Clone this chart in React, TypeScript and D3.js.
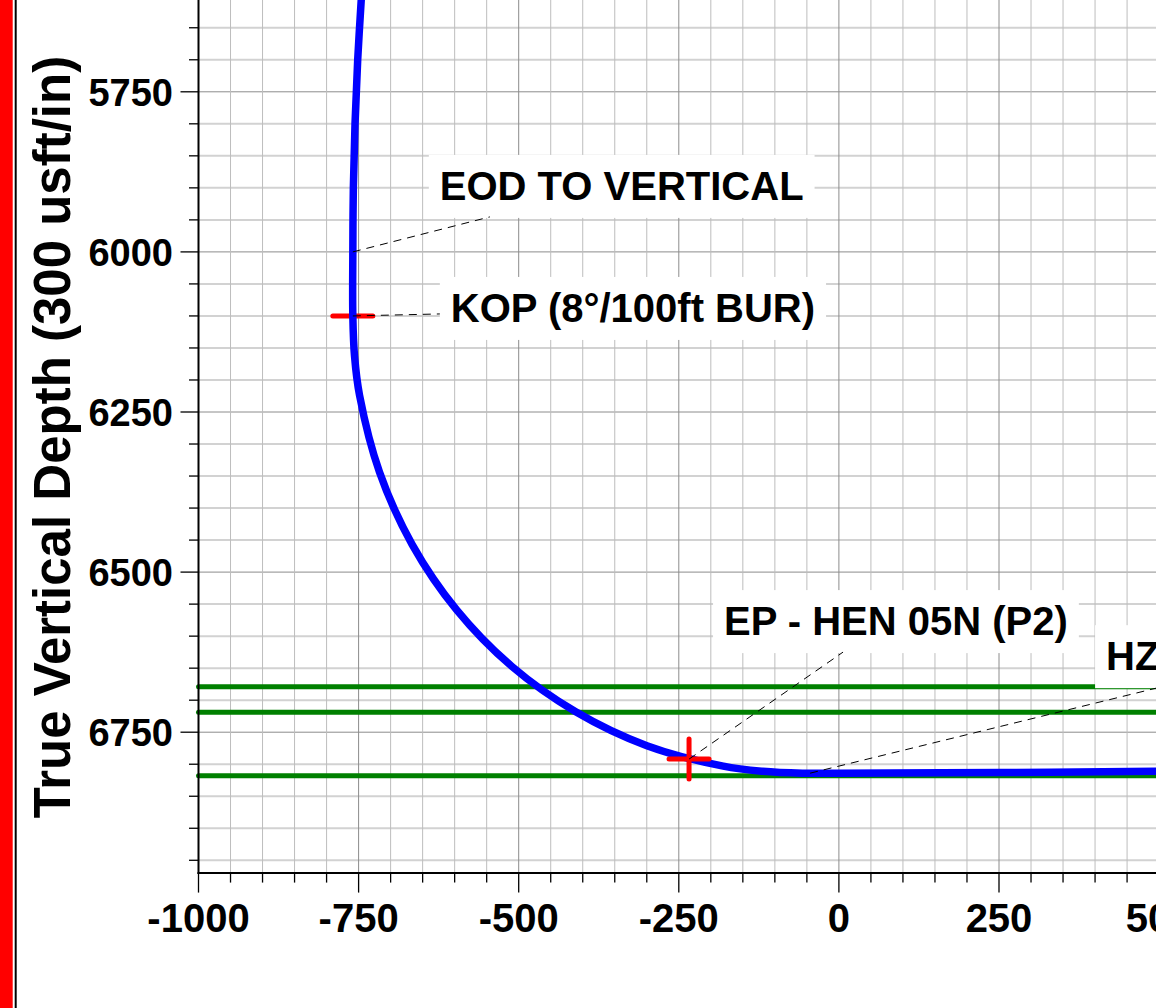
import React, { useEffect, useRef } from "react";
import * as d3 from "d3";

const W = 1156;
const H = 1008;

// Well path (vertical section, usft) and true vertical depth (usft)
const wellVs = [-745.5, -751.4, -755.6, -758.2, -759, -759, -756.4, -748.5, -717.3, -666.3, -596.9, -511.0, -411.0, -299.8, -180.6, -119.1, -57, 0, 252, 501, 700];
const wellTvd = [5600, 5700, 5800, 5900, 6000, 6100, 6162, 6224, 6344, 6457, 6559, 6647, 6718, 6771, 6803, 6811, 6814, 6814, 6813, 6811, 6810];

// Horizontal formation / target lines (TVD)
const targetTvd = [6679, 6719, 6818];

// Survey markers
const markerNames = ["KOP", "EP"];
const markerVs = [-759, -234];
const markerTvd = [6100, 6792];

// Annotations
const annoText = ["EOD TO VERTICAL", "KOP (8°/100ft BUR)", "EP - HEN 05N (P2)", "HZ TARGET"];
const annoVs = [-759, -759, -234, -45];
const annoTvd = [6000, 6100, 6792, 6814];

// Axis ticks
const xTickLabels = [-1000, -750, -500, -250, 0, 250, 500];
const yTickLabels = [5750, 6000, 6250, 6500, 6750];

// Layout (pixel offsets from annotation target)
const annoLayout = [
  { ex: 137, ey: -35, tx: 87, ty: -52 },
  { ex: 87, ey: -2, tx: 98, ty: 6 },
  { ex: 154, ey: -107, tx: 35, ty: -124 },
  { ex: 346, ey: -85, tx: 296, ty: -103 },
];

const FONT = "'Liberation Sans', Arial, Helvetica, sans-serif";

export default function App() {
  const ref = useRef<SVGSVGElement | null>(null);

  useEffect(() => {
    const svg = d3.select(ref.current);
    svg.selectAll("*").remove();

    const x = d3.scaleLinear().domain([-1000, 600]).range([198.5, 198.5 + 1600 * 0.6404]);
    const y = d3.scaleLinear().domain([5600, 6970]).range([91.8 - 150 * 0.6404, 91.8 + 1220 * 0.6404]);
    const [x0, x1] = x.range();
    const [y0, y1] = y.range();
    const plotTop = y0 - 20;

    svg.append("rect").attr("width", W).attr("height", H).attr("fill", "#fff");

    // left frame bars
    svg.append("rect").attr("x", 0).attr("y", 0).attr("width", 12.7).attr("height", H).attr("fill", "#ff0000");
    svg.append("line").attr("x1", 15.7).attr("x2", 15.7).attr("y1", 0).attr("y2", H).attr("stroke", "#000").attr("stroke-width", 2);

    const g = svg.append("g");

    // grid
    const xGrid = d3.range(-1000, 601, 50);
    const yGrid = d3.range(5600, 6951, 50);
    g.selectAll(".hg").data(yGrid).enter().append("line")
      .attr("x1", x0).attr("x2", x1 + 50)
      .attr("y1", (d) => y(d)).attr("y2", (d) => y(d))
      .attr("stroke", (d) => (d % 250 === 0 ? "#8c8c8c" : "#d2d2d2"))
      .attr("stroke-width", (d) => (d % 250 === 0 ? 1 : 2));
    g.selectAll(".vg").data(xGrid).enter().append("line")
      .attr("x1", (d) => x(d)).attr("x2", (d) => x(d))
      .attr("y1", plotTop).attr("y2", y1)
      .attr("stroke", (d) => (d % 250 === 0 ? "#8c8c8c" : "#bdbdbd"))
      .attr("stroke-width", 1);

    // target lines
    g.selectAll(".tl").data(targetTvd).enter().append("line")
      .attr("x1", x0).attr("x2", x1 + 50)
      .attr("y1", (d) => y(d)).attr("y2", (d) => y(d))
      .attr("stroke", "#008000").attr("stroke-width", 5).attr("stroke-linecap", "round");

    // axes
    g.append("line").attr("x1", x0).attr("x2", x0).attr("y1", plotTop).attr("y2", y1 + 1)
      .attr("stroke", "#000").attr("stroke-width", 2);
    g.append("line").attr("x1", x0 - 1).attr("x2", x1 + 50).attr("y1", y1).attr("y2", y1)
      .attr("stroke", "#000").attr("stroke-width", 2);
    g.selectAll(".yt").data(yGrid).enter().append("line")
      .attr("x1", (d) => (d % 250 === 0 ? x0 - 18 : x0 - 9.5)).attr("x2", x0)
      .attr("y1", (d) => y(d)).attr("y2", (d) => y(d))
      .attr("stroke", "#000").attr("stroke-width", 1.3);
    g.selectAll(".xt").data(xGrid).enter().append("line")
      .attr("x1", (d) => x(d)).attr("x2", (d) => x(d))
      .attr("y1", y1).attr("y2", (d) => (d % 250 === 0 ? y1 + 19.5 : y1 + 9.5))
      .attr("stroke", "#000").attr("stroke-width", 1.3);

    g.selectAll(".ytl").data(yTickLabels).enter().append("text")
      .attr("x", x0 - 25.5).attr("y", (d) => y(d) + 14.2)
      .attr("text-anchor", "end").attr("font-family", FONT).attr("font-weight", "bold")
      .attr("font-size", 38).attr("fill", "#000").text((d) => String(d));
    g.selectAll(".xtl").data(xTickLabels).enter().append("text")
      .attr("x", (d) => x(d)).attr("y", 931.7)
      .attr("text-anchor", "middle").attr("font-family", FONT).attr("font-weight", "bold")
      .attr("font-size", 40).attr("fill", "#000").text((d) => String(d));

    svg.append("text")
      .attr("transform", "translate(70,437) rotate(-90)")
      .attr("text-anchor", "middle").attr("font-family", FONT).attr("font-weight", "bold")
      .attr("font-size", 51).attr("fill", "#000")
      .text("True Vertical Depth (300 usft/in)");

    const cross = (i: number) => {
      const cx = x(markerVs[i]);
      const cy = y(markerTvd[i]);
      const mg = g.append("g").attr("stroke", "#ff0000").attr("stroke-width", 5).attr("stroke-linecap", "round");
      mg.append("line").attr("x1", cx - 20).attr("x2", cx + 20).attr("y1", cy).attr("y2", cy);
      mg.append("line").attr("x1", cx).attr("x2", cx).attr("y1", cy - 20).attr("y2", cy + 20);
    };

    // KOP marker beneath the well path
    cross(markerNames.indexOf("KOP"));

    // well path
    const pts: [number, number][] = wellVs.map((v, i) => [v, wellTvd[i]]);
    const line = d3.line<[number, number]>()
      .x((d) => x(d[0])).y((d) => y(d[1]))
      .curve(d3.curveCatmullRom.alpha(0.5));
    g.append("path").attr("d", line(pts) as string)
      .attr("fill", "none").attr("stroke", "#0000ff").attr("stroke-width", 7.5)
      .attr("stroke-linejoin", "round");

    // EP marker above
    cross(markerNames.indexOf("EP"));

    // annotations
    annoText.forEach((t, i) => {
      const tx = x(annoVs[i]);
      const ty = y(annoTvd[i]);
      const L = annoLayout[i];
      const ag = svg.append("g");
      const box = ag.append("rect").attr("fill", "#fff");
      ag.append("line")
        .attr("x1", tx).attr("y1", ty).attr("x2", tx + L.ex).attr("y2", ty + L.ey)
        .attr("stroke", "#000").attr("stroke-width", 1).attr("stroke-dasharray", "8,6");
      const text = ag.append("text")
        .attr("x", tx + L.tx).attr("y", ty + L.ty)
        .attr("font-family", FONT).attr("font-weight", "bold").attr("font-size", 40)
        .attr("fill", "#000").text(t);
      const w = (text.node() as SVGTextElement).getComputedTextLength();
      box.attr("x", tx + L.tx - 11).attr("y", ty + L.ty - 45)
        .attr("width", w + 22).attr("height", 63);
    });
  }, []);

  return (
    <svg
      ref={ref}
      width={W}
      height={H}
      style={{ position: "absolute", left: 0, top: 0, display: "block" }}
    />
  );
}
